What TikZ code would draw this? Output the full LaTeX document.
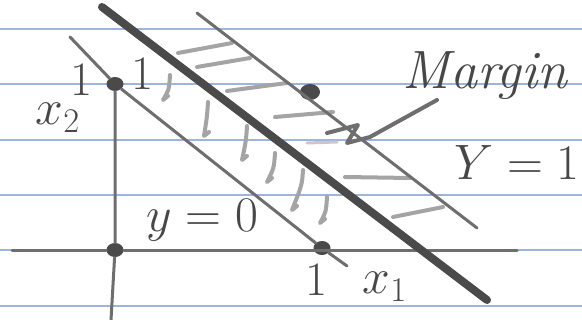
\documentclass[tikz,border=0pt]{standalone}
\usepackage{tikz}
\usetikzlibrary{arrows.meta,positioning,calc,shapes.geometric}
\definecolor{skrule}{HTML}{9DB4DE}
\definecolor{skink}{HTML}{4A4A4A}
\definecolor{skpen}{HTML}{6E6E6E}
\definecolor{skhatch}{HTML}{A4A4A4}
\definecolor{sktext}{HTML}{474747}

\begin{document}
\begin{tikzpicture}[x=0.5pt,y=-0.5pt,line cap=round,line join=round]
        \tikzset{rule/.style={draw=skrule,line width=0.7pt},
          pen/.style={draw=skpen,line width=1.5pt},
          hatch/.style={draw=skhatch,line width=2pt},
          dot/.style={ellipse,fill=skink,inner sep=0pt,minimum width=8.5pt,minimum height=7pt},
          hand/.style={text=sktext,inner sep=0pt,font=\fontsize{24}{28}\selectfont}}
        \fill[white] (0,0) rectangle (582,320);
        \useasboundingbox (0,0) rectangle (582,320);
        \foreach \y in {29,84,140,195,250,306}
          \draw[rule] (0,\y) -- (582,\y);
        \node[dot] (top) at (115,84) {};
        \node[dot] (origin) at (115,250) {};
        \node[dot] (one) at (322,248) {};
        \node[dot,minimum width=10pt,minimum height=8pt] (mpoint) at (310,92) {};
        \coordinate (axl) at (12,250);
        \coordinate (axr) at (517,250);
        \coordinate (axb) at (111,320);
        \draw[pen] (axl) -- (origin) -- (axr);
        \draw[pen] (top) -- (origin) -- (axb);
        \foreach \ax/\ay/\bx/\by in {178/53/232/43,197/67/250/58,227/91/287/83,275/117/333/112,345/177/410/178,393/217/443/207}
          \draw[hatch] (\ax,\ay) -- (\bx,\by);
        \draw[hatch,skhatch!60,line width=1.5pt] (307,143) -- (337,142);
        \foreach \ax/\ay/\bx/\by in {170/75/163/100,208/102/204/136,247/126/242/160,275/153/267/182,303/170/292/210,327/197/320/223}
          \draw[hatch] (\ax,\ay) .. controls (\ax-1,\ay+15) .. (\bx,\by) -- ++(5,-4);
        \coordinate (lowA) at (70,37);
        \coordinate (lowB) at (347,266);
        \coordinate (upA) at (197,13);
        \coordinate (upB) at (477,228);
        \coordinate (sepA) at (102,7);
        \coordinate (sepB) at (487,300);
        \draw[pen] (lowA) -- (top) -- (one) -- (lowB);
        \draw[pen] (upA) -- (upB);
        \draw[draw=skink,line width=4pt] (sepA) -- (sepB);
        \node[hand] (lone) at (82,80) {1};
        \node[hand] (rone) at (143,74) {1};
        \node[hand] (xtwo) at (58,118) {$x_2$};
        \node[hand] (yzero) at (202,220) {$y=0$};
        \node[hand] (xone) at (317,280) {1};
        \node[hand] (xlab) at (385,287) {$x_1$};
        \node[hand,font=\fontsize{27}{30}\selectfont\itshape] (margin) at (485,76) {Margin};
        \node[hand,font=\fontsize{26}{30}\selectfont] (yone) at (517,162) {$Y=1$};
        \coordinate (mtip) at (370,137);
        \draw[draw=skpen,line width=2pt] (437,100) -- (mtip) -- (347,143) -- (358,125) -- (327,133);
      \end{tikzpicture}
\end{document}
